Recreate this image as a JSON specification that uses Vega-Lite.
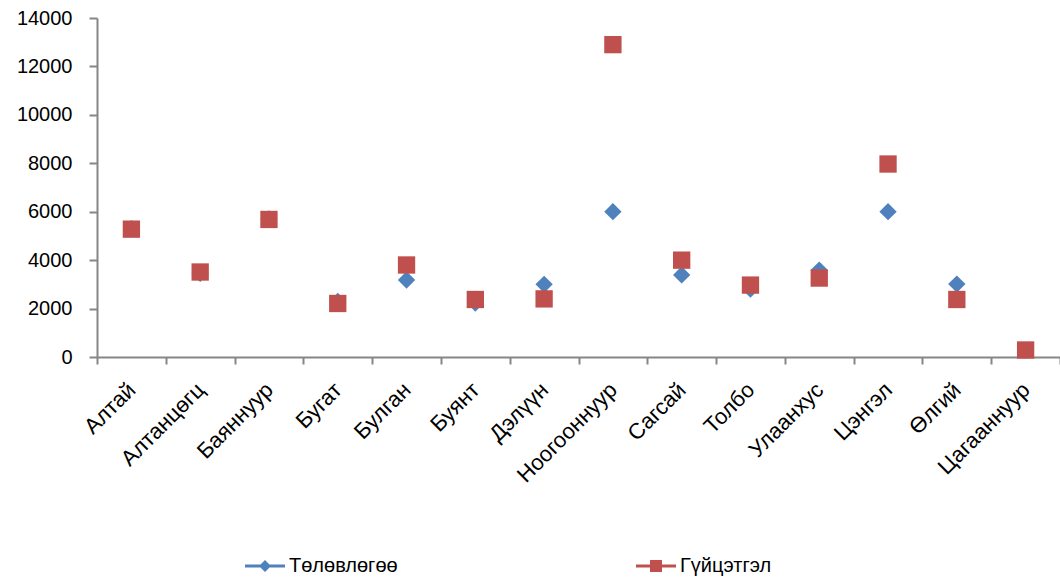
{
  "$schema": "https://vega.github.io/schema/vega-lite/v6.json",
  "autosize": "none",
  "width": 963,
  "height": 339,
  "padding": {"left": 97, "top": 18, "right": 0, "bottom": 223},
  "background": "white",
  "config": {
    "view": {"stroke": null},
    "font": "Liberation Sans"
  },
  "data": {
    "values": [
      {"sum": "Алтай", "series": "Төлөвлөгөө", "value": 5300},
      {"sum": "Алтанцөгц", "series": "Төлөвлөгөө", "value": 3450},
      {"sum": "Баяннуур", "series": "Төлөвлөгөө", "value": 5700},
      {"sum": "Бугат", "series": "Төлөвлөгөө", "value": 2300},
      {"sum": "Булган", "series": "Төлөвлөгөө", "value": 3180},
      {"sum": "Буянт", "series": "Төлөвлөгөө", "value": 2230},
      {"sum": "Дэлүүн", "series": "Төлөвлөгөө", "value": 3000},
      {"sum": "Ноогооннуур", "series": "Төлөвлөгөө", "value": 6000},
      {"sum": "Сагсай", "series": "Төлөвлөгөө", "value": 3390},
      {"sum": "Толбо", "series": "Төлөвлөгөө", "value": 2800},
      {"sum": "Улаанхус", "series": "Төлөвлөгөө", "value": 3590},
      {"sum": "Цэнгэл", "series": "Төлөвлөгөө", "value": 6000},
      {"sum": "Өлгий", "series": "Төлөвлөгөө", "value": 3010},
      {"sum": "Цагааннуур", "series": "Төлөвлөгөө", "value": 280},
      {"sum": "Алтай", "series": "Гүйцэтгэл", "value": 5280},
      {"sum": "Алтанцөгц", "series": "Гүйцэтгэл", "value": 3510},
      {"sum": "Баяннуур", "series": "Гүйцэтгэл", "value": 5680},
      {"sum": "Бугат", "series": "Гүйцэтгэл", "value": 2210},
      {"sum": "Булган", "series": "Гүйцэтгэл", "value": 3800},
      {"sum": "Буянт", "series": "Гүйцэтгэл", "value": 2375},
      {"sum": "Дэлүүн", "series": "Гүйцэтгэл", "value": 2400},
      {"sum": "Ноогооннуур", "series": "Гүйцэтгэл", "value": 12900},
      {"sum": "Сагсай", "series": "Гүйцэтгэл", "value": 4000},
      {"sum": "Толбо", "series": "Гүйцэтгэл", "value": 2970},
      {"sum": "Улаанхус", "series": "Гүйцэтгэл", "value": 3260},
      {"sum": "Цэнгэл", "series": "Гүйцэтгэл", "value": 7970},
      {"sum": "Өлгий", "series": "Гүйцэтгэл", "value": 2375},
      {"sum": "Цагааннуур", "series": "Гүйцэтгэл", "value": 290}
    ]
  },
  "encoding": {
    "x": {
      "field": "sum",
      "type": "nominal",
      "sort": null,
      "scale": {"paddingInner": 0, "paddingOuter": 0},
      "axis": {
        "title": null,
        "tickBand": "extent",
        "labelAngle": -45,
        "labelAlign": "right",
        "labelBaseline": "middle",
        "labelFontSize": 22,
        "labelColor": "#000000",
        "labelPadding": 22,
        "labelLimit": 300,
        "labelOverlap": false,
        "tickSize": 7,
        "tickColor": "#868686",
        "domainColor": "#868686",
        "domainWidth": 2,
        "tickWidth": 2
      }
    },
    "y": {
      "field": "value",
      "type": "quantitative",
      "scale": {"domain": [0, 14000], "nice": false},
      "axis": {
        "title": null,
        "format": "d",
        "values": [0, 2000, 4000, 6000, 8000, 10000, 12000, 14000],
        "grid": false,
        "labelFontSize": 20,
        "labelColor": "#000000",
        "labelPadding": 17,
        "tickSize": 8,
        "tickColor": "#868686",
        "domainColor": "#868686",
        "domainWidth": 2,
        "tickWidth": 2
      }
    }
  },
  "layer": [
    {
      "transform": [{"filter": "datum.series === 'Төлөвлөгөө'"}],
      "mark": {"type": "point", "shape": "diamond", "filled": true, "opacity": 1, "strokeWidth": 0, "size": 300, "fill": "#4F81BD"}
    },
    {
      "transform": [{"filter": "datum.series === 'Гүйцэтгэл'"}],
      "mark": {"type": "point", "shape": "square", "filled": true, "opacity": 1, "strokeWidth": 0, "size": 300, "fill": "#C0504D"}
    },
    {
      "mark": {"type": "point", "filled": true, "size": 0, "strokeWidth": 0},
      "encoding": {
        "color": {
          "field": "series",
          "type": "nominal",
          "scale": {"domain": ["Төлөвлөгөө", "Гүйцэтгэл"], "range": ["#4F81BD", "#C0504D"]},
          "legend": {
            "title": null,
            "orient": "none",
            "legendX": 148,
            "legendY": 528,
            "direction": "horizontal",
            "columns": 2,
            "columnPadding": 238,
            "labelFontSize": 20,
            "labelColor": "#000000",
            "labelOffset": 4,
            "symbolSize": 1600,
            "symbolStrokeWidth": 0,
            "symbolOpacity": 1,
            "encoding": {
              "symbols": {
                "shape": {
                  "condition": {"test": "datum.value === 'Төлөвлөгөө'", "value": "M-1,-0.07L1,-0.07L1,0.07L-1,0.07Z M0,-0.3L0.3,0L0,0.3L-0.3,0Z"},
                  "value": "M-1,-0.07L1,-0.07L1,0.07L-1,0.07Z M-0.3,-0.3L0.3,-0.3L0.3,0.3L-0.3,0.3Z"
                },
                "strokeWidth": {"value": 0}
              }
            }
          }
        }
      }
    }
  ]
}
